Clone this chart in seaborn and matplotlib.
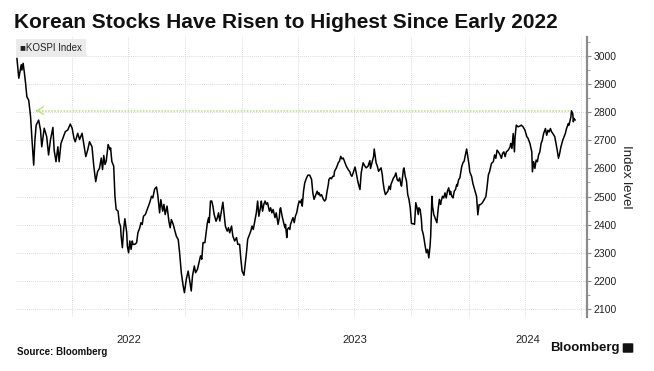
import pandas as pd
import seaborn as sns
import matplotlib.pyplot as plt
import matplotlib.dates as mdates
from matplotlib.ticker import MultipleLocator
from matplotlib.patches import FancyBboxPatch

# KOSPI closes: calendar days since 2022-01-01 and index level
days = [
    2, 5, 9, 10, 12, 14, 16, 18, 21, 24,
    26, 29, 31, 33, 37, 40, 42, 46, 50, 53,
    56, 60, 62, 65, 68, 70, 73, 76, 80, 84,
    88, 91, 94, 96, 100, 103, 107, 110, 113, 116,
    119, 123, 126, 129, 132, 135, 138, 140, 142, 144,
    146, 149, 152, 153, 155, 158, 160, 162, 165, 167,
    169, 170, 172, 174, 176, 179, 180, 182, 184, 186,
    188, 189, 192, 195, 197, 200, 202, 204, 206, 209,
    211, 213, 216, 219, 221, 224, 227, 229, 232, 234,
    237, 239, 241, 244, 247, 249, 251, 254, 256, 259,
    262, 264, 267, 270, 272, 275, 278, 281, 283, 285,
    288, 290, 293, 296, 298, 300, 302, 305, 306, 309,
    311, 312, 314, 316, 318, 320, 323, 325, 327, 329,
    332, 334, 336, 338, 341, 343, 345, 348, 350, 353,
    356, 358, 361, 363, 365, 368, 370, 372, 374, 376,
    379, 381, 383, 385, 388, 390, 392, 395, 396, 398,
    400, 402, 404, 406, 409, 411, 413, 415, 418, 420,
    423, 425, 426, 427, 430, 432, 434, 435, 437, 438,
    440, 442, 443, 446, 447, 449, 451, 453, 455, 457,
    459, 461, 462, 464, 466, 469, 471, 474, 477, 479,
    481, 483, 486, 488, 489, 491, 493, 496, 498, 500,
    502, 504, 505, 507, 509, 511, 513, 514, 517, 520,
    522, 524, 526, 528, 531, 533, 536, 539, 540, 542,
    544, 547, 549, 552, 555, 557, 560, 563, 565, 568,
    571, 572, 575, 577, 578, 581, 583, 585, 587, 589,
    591, 592, 594, 596, 598, 600, 602, 604, 605, 607,
    609, 611, 613, 615, 617, 619, 621, 622, 625, 626,
    628, 630, 632, 634, 636, 638, 641, 643, 645, 647,
    649, 650, 652, 654, 655, 657, 658, 660, 662, 664,
    666, 668, 669, 671, 672, 674, 676, 677, 679, 681,
    683, 685, 686, 688, 690, 692, 694, 696, 698, 700,
    701, 703, 705, 707, 709, 711, 712, 714, 716, 719,
    721, 723, 725, 727, 729, 731, 732, 735, 737, 740,
    743, 745, 747, 749, 752, 755, 758, 760, 762, 764,
    767, 770, 772, 774, 776, 778, 781, 783, 785, 787,
    789, 791, 794, 797, 798, 800, 802, 804, 805, 807,
    810, 813, 815, 818, 821, 824, 826, 829, 832, 833,
    835, 837, 839, 841, 843, 845, 847, 849, 851, 854,
    856, 858, 860, 862, 864, 866, 869, 871, 873, 875,
    877, 879, 882, 884, 886, 888, 891, 892, 895, 896,
    898, 899, 900, 902,
]
kospi = [
    2992, 2921, 2969, 2950, 2974, 2940, 2902, 2855, 2843, 2784,
    2712, 2612, 2701, 2754, 2772, 2737, 2677, 2743, 2713, 2648,
    2701, 2746, 2665, 2624, 2677, 2624, 2689, 2707, 2731, 2737,
    2758, 2743, 2707, 2695, 2725, 2703, 2725, 2683, 2642, 2665,
    2695, 2677, 2606, 2553, 2589, 2600, 2637, 2596, 2646, 2614,
    2626, 2685, 2667, 2673, 2625, 2608, 2501, 2454, 2448, 2407,
    2395, 2359, 2318, 2383, 2421, 2371, 2324, 2300, 2342, 2312,
    2342, 2330, 2330, 2336, 2371, 2389, 2407, 2401, 2430, 2436,
    2448, 2460, 2478, 2501, 2495, 2527, 2534, 2507, 2442, 2489,
    2448, 2472, 2436, 2466, 2412, 2389, 2418, 2401, 2383, 2359,
    2347, 2306, 2229, 2182, 2158, 2205, 2235, 2194, 2164, 2217,
    2253, 2229, 2241, 2270, 2289, 2277, 2336, 2336, 2354, 2407,
    2425, 2407, 2484, 2484, 2465, 2436, 2412, 2424, 2442, 2413,
    2454, 2480, 2436, 2395, 2377, 2389, 2371, 2395, 2360, 2342,
    2354, 2330, 2330, 2277, 2235, 2220, 2259, 2300, 2348, 2360,
    2377, 2395, 2383, 2407, 2443, 2484, 2430, 2466, 2484, 2448,
    2472, 2484, 2472, 2478, 2448, 2460, 2442, 2454, 2425, 2442,
    2401, 2425, 2454, 2460, 2425, 2407, 2389, 2401, 2354, 2383,
    2389, 2383, 2401, 2419, 2425, 2407, 2431, 2442, 2466, 2484,
    2478, 2490, 2466, 2519, 2549, 2567, 2576, 2576, 2561, 2513,
    2490, 2502, 2519, 2507, 2513, 2502, 2507, 2490, 2484, 2490,
    2519, 2543, 2561, 2567, 2563, 2572, 2572, 2590, 2602, 2620,
    2626, 2643, 2634, 2637, 2620, 2608, 2596, 2587, 2578, 2572,
    2584, 2605, 2584, 2549, 2525, 2584, 2620, 2608, 2602, 2608,
    2628, 2600, 2625, 2643, 2669, 2620, 2608, 2590, 2596, 2602,
    2578, 2555, 2525, 2507, 2513, 2519, 2537, 2525, 2543, 2555,
    2566, 2572, 2584, 2560, 2555, 2566, 2543, 2537, 2596, 2602,
    2572, 2555, 2507, 2490, 2460, 2404, 2403, 2401, 2478, 2460,
    2436, 2460, 2454, 2419, 2383, 2366, 2354, 2325, 2300, 2312,
    2282, 2325, 2360, 2501, 2466, 2436, 2425, 2419, 2407, 2454,
    2490, 2472, 2484, 2501, 2495, 2513, 2495, 2519, 2531, 2507,
    2519, 2501, 2495, 2519, 2525, 2543, 2537, 2560, 2566, 2606,
    2620, 2626, 2649, 2669, 2640, 2610, 2588, 2571, 2547, 2524,
    2500, 2435, 2471, 2471, 2477, 2488, 2500, 2536, 2577, 2589,
    2618, 2624, 2648, 2636, 2665, 2659, 2648, 2636, 2654, 2659,
    2642, 2659, 2665, 2677, 2689, 2671, 2724, 2659, 2712, 2754,
    2748, 2751, 2754, 2748, 2736, 2713, 2707, 2689, 2659, 2588,
    2624, 2600, 2630, 2624, 2648, 2659, 2689, 2701, 2724, 2742,
    2718, 2736, 2730, 2742, 2730, 2724, 2713, 2689, 2665, 2636,
    2654, 2677, 2701, 2713, 2724, 2742, 2760, 2754, 2783, 2805,
    2795, 2766, 2778, 2772,
]
assert len(days) == len(kospi)

# dotted line marking the new high, running back to early 2022
high_level = 2806
high_from, high_to = 33, 897

year_labels = ['2022', '2023', '2024']
year_label_days = [182, 547, 826]

start = pd.Timestamp('2022-01-01')
df = pd.DataFrame({'date': start + pd.to_timedelta(days, unit='D'), 'kospi': kospi})

sns.set_style('white')
plt.rcParams['font.family'] = ['Liberation Sans', 'DejaVu Sans']

W, H = 654, 371
fig = plt.figure(figsize=(W / 100, H / 100), dpi=100)
ax = fig.add_axes([16 / W, 1 - 317 / H, (587 - 16) / W, (317 - 37) / H])

grid_kw = dict(color='#cfcfcf', linestyle=(0, (1, 1.5)), linewidth=0.6)

# green high-water line with its little arrow head
green = '#b7de7c'
ax.hlines(high_level, start + pd.Timedelta(days=high_from), start + pd.Timedelta(days=high_to),
          colors=green, linestyles=(0, (1, 1)), linewidth=1.1, zorder=2)
ax.annotate('', xy=(start + pd.Timedelta(days=high_from), high_level),
            xytext=(start + pd.Timedelta(days=high_from + 6), high_level),
            arrowprops=dict(arrowstyle='->,head_length=0.45,head_width=0.28', color=green, lw=0.9))

sns.lineplot(data=df, x='date', y='kospi', color='black', linewidth=1.1, ax=ax, zorder=3)

ax.set_xlim(start + pd.Timedelta(days=0.5), start + pd.Timedelta(days=921))
ax.set_ylim(2071.5, 3067.6)

# x: quarterly dotted grid, year labels centred under each year
ax.xaxis.set_minor_locator(mdates.MonthLocator(bymonth=(1, 4, 7, 10)))
ax.xaxis.remove_overlapping_locs = False
ax.set_xticks([start + pd.Timedelta(days=d) for d in year_label_days])
ax.set_xticklabels(year_labels)
ax.tick_params(axis='x', which='both', length=0, labelsize=8, pad=13, colors='#222222')
ax.xaxis.grid(True, which='minor', **grid_kw)
ax.xaxis.grid(False, which='major')

# y on the right
ax.yaxis.tick_right()
ax.yaxis.set_major_locator(MultipleLocator(100))
ax.yaxis.set_minor_locator(MultipleLocator(50))
ax.tick_params(axis='y', which='major', length=3, width=0.8, color='#8a8a8a',
               labelsize=7.5, pad=1.5, labelcolor='#222222')
ax.tick_params(axis='y', which='minor', length=2, width=0.6, color='#8a8a8a')
ax.yaxis.grid(True, which='major', **grid_kw)
ax.set_xlabel('')
ax.set_ylabel('')

for side in ['left', 'top', 'bottom']:
    ax.spines[side].set_visible(False)
ax.spines['right'].set_color('#8c8c8c')
ax.spines['right'].set_linewidth(1.6)

fig.text(14 / W, 1 - 22 / H, 'Korean Stocks Have Risen to Highest Since Early 2022',
         fontsize=15, fontweight='bold', va='center', color='#111111')
fig.text(20 / W, 1 - 48 / H, '■KOSPI Index', fontsize=7, va='center', color='#222222',
         bbox=dict(boxstyle='square,pad=0.45', fc='#ebebeb', ec='none'))
fig.text(626 / W, 1 - 177 / H, 'Index level', rotation=270, fontsize=9.5,
         ha='center', va='center', color='#222222')
fig.text(17 / W, 1 - 352 / H, 'Source: Bloomberg', fontsize=7, fontweight='bold',
         va='center', color='#111111')
fig.text(620 / W, 1 - 348 / H, 'Bloomberg', fontsize=9.5, fontweight='bold',
         ha='right', va='center', color='#111111')
fig.patches.append(FancyBboxPatch((624 / W, 1 - 352 / H), 8 / W, 8 / H,
                                  boxstyle='round,pad=0.002', fc='#111111', ec='none',
                                  transform=fig.transFigure, figure=fig))

fig.savefig('out.png', dpi=100)
plt.close(fig)
